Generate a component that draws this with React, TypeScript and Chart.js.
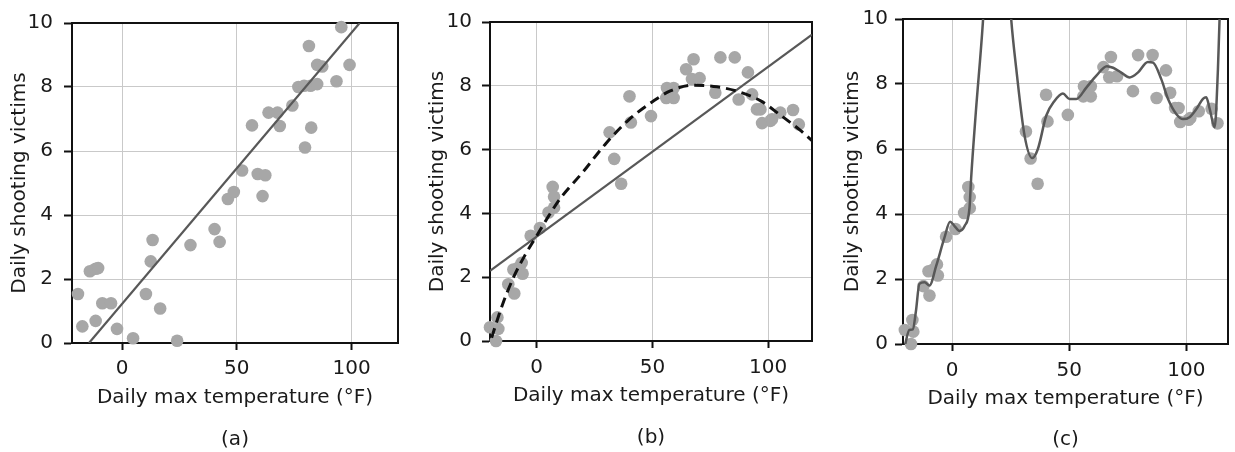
import { useEffect, useRef } from 'react';
import { Chart, registerables } from 'chart.js';

Chart.register(...registerables);

// ---- Data ----
const X_TICKS = [0, 50, 100];

// Panel (a): raw observations and linear fit
const aTemp = [-19.2, -17.3, -14, -11.5, -10.4, -11.5, -8.6, -4.8, -2.2, 4.8, 10.4, 12.5, 13.3, 16.6, 24, 29.8, 40.3, 42.5, 46.1, 48.7, 52.3, 56.6, 59.1, 62.4, 61.2, 63.8, 67.7, 68.7, 74.2, 76.8, 79.7, 79.3, 82.1, 85, 81.4, 82.4, 85, 87.2, 93.4, 95.5, 99.1];
const aVictims = [1.53, 0.52, 2.24, 2.32, 2.34, 0.69, 1.24, 1.24, 0.44, 0.15, 1.53, 2.55, 3.22, 1.08, 0.07, 3.06, 3.56, 3.16, 4.5, 4.72, 5.39, 6.8, 5.28, 5.24, 4.59, 7.2, 7.2, 6.78, 7.42, 8.0, 6.11, 8.04, 8.04, 8.09, 9.28, 6.73, 8.69, 8.64, 8.18, 9.87, 8.69];
const aFitTemp = [-14.4, 103.5];
const aFitVictims = [0, 10];

// Panels (b) and (c): observations
const bTemp = [-20.2, -17, -17.6, -16.6, -12.3, -9.7, -10.1, -7.9, -6.1, -6.5, -2.6, 1.4, 5.1, 6.9, 7.5, 7.5, 31.5, 33.5, 36.5, 40.1, 40.7, 49.4, 56.3, 59.2, 56, 59.2, 64.6, 67.8, 67.1, 70.4, 77.2, 79.4, 85.6, 87.3, 91.3, 93.1, 95.2, 96.7, 97.4, 101, 105.3, 110.8, 113.3, 101.7];
const bVictims = [0.43, 0.74, 0.0, 0.38, 1.78, 1.49, 2.24, 2.3, 2.11, 2.45, 3.3, 3.54, 4.03, 4.83, 4.52, 4.18, 6.54, 5.71, 4.93, 7.67, 6.85, 7.05, 7.93, 7.93, 7.62, 7.62, 8.52, 8.83, 8.21, 8.24, 7.78, 8.89, 8.89, 7.57, 8.42, 7.73, 7.26, 7.26, 6.83, 6.9, 7.16, 7.24, 6.79, 6.95];

// Panel (b): linear fit and quadratic (dashed) fit
const bLinTemp = [-20.2, 119];
const bLinVictims = [2.2, 9.6];
const bQuadTemp = [-19.5, -15, -10, -5, 0, 5, 10, 20, 30, 40, 50, 58, 68, 78, 88, 97, 105, 114, 119.5];
const bQuadVictims = [0.1, 1.1, 2.0, 2.7, 3.3, 3.9, 4.45, 5.3, 6.2, 6.95, 7.5, 7.85, 8.02, 7.97, 7.8, 7.52, 7.1, 6.6, 6.25];

// Panel (c): high-order (overfit) curve
const cCurveTemp = [-20.8, -19.8, -18.3, -16.8, -15.5, -14, -11.8, -9.7, -6.8, -3.3, -0.9, 1.0, 3.1, 5.3, 7.4, 8.1, 10.1, 13.1, 16, 19, 22, 25.2, 27.4, 30.9, 34.2, 36.6, 40.2, 43.7, 47.3, 50.1, 53, 57.3, 61.5, 66.1, 68.7, 72.2, 75.8, 79.3, 83.6, 85.8, 89.3, 92.2, 95.7, 98.6, 101.4, 104.3, 107.1, 108.5, 110, 112.1, 113.5, 114.2, 115.5];
const cCurveVictims = [-0.3, 0.07, 0.43, 0.45, 1.0, 1.85, 1.9, 1.8, 2.41, 3.27, 3.76, 3.63, 3.48, 3.63, 4.19, 5.1, 7.13, 9.88, 13.5, 15, 13.5, 10, 8.45, 6.42, 5.72, 6.0, 7.03, 7.48, 7.71, 7.54, 7.54, 7.89, 8.25, 8.55, 8.5, 8.35, 8.2, 8.35, 8.68, 8.66, 8.15, 7.54, 7.08, 6.92, 6.98, 7.23, 7.54, 7.59, 7.23, 6.67, 8.45, 10, 12];

const X_TITLE = 'Daily max temperature (°F)';
const Y_TITLE = 'Daily shooting victims';

// ---- Styles ----
const FONT = 'DejaVu Sans';
const TEXT = '#1a1a1a';
const GRID = '#c9c9c9';
const AXIS = '#111';
const DOT = '#a7a7a7';
const FIT = '#585858';

const pts = (xs: number[], ys: number[]) => xs.map((x, i) => ({ x, y: ys[i] }));

const scatterSet = (xs: number[], ys: number[]) => ({
  data: pts(xs, ys),
  showLine: false,
  pointRadius: 6.3,
  pointHoverRadius: 6.3,
  pointBackgroundColor: DOT,
  pointBorderWidth: 0,
  backgroundColor: DOT,
  clip: false as any,
  order: 2,
});

const lineSet = (xs: number[], ys: number[], extra: any) => ({
  data: pts(xs, ys),
  showLine: true,
  pointRadius: 0,
  pointHoverRadius: 0,
  fill: false,
  order: 0,
  ...extra,
});

const framePlugin = {
  id: 'frame',
  beforeDatasetsDraw(chart: any) {
    const { ctx, chartArea } = chart;
    const { left, top, right, bottom } = chartArea;
    ctx.save();
    ctx.strokeStyle = AXIS;
    ctx.lineWidth = 2;
    ctx.strokeRect(left, top, right - left, bottom - top);
    ctx.restore();
  },
};

type PanelSpec = {
  left: number;
  width: number;
  label: string;
  xMin: number;
  xMax: number;
  yAxisWidth: number;
  rightPad: number;
  topPad: number;
  xAxisHeight: number;
  labelPadTop: number;
  labelPadBottom: number;
  yTitlePad: number;
  yTickPad: number;
  xTickPad: number;
  datasets: any[];
};

const panels: PanelSpec[] = [
  {
    left: 0, width: 410, label: '(a)', xMin: -21.8, xMax: 120.2,
    yAxisWidth: 72, rightPad: 12, topPad: 18, xAxisHeight: 67,
    labelPadTop: 18, labelPadBottom: 0, yTitlePad: 8, yTickPad: 11, xTickPad: 7,
    datasets: [
      lineSet(aFitTemp, aFitVictims, { borderColor: FIT, borderWidth: 2.2, tension: 0 }),
      scatterSet(aTemp, aVictims),
    ],
  },
  {
    left: 410, width: 410, label: '(b)', xMin: -20.2, xMax: 119,
    yAxisWidth: 80, rightPad: 8, topPad: 18, xAxisHeight: 67,
    labelPadTop: 18, labelPadBottom: 2, yTitlePad: 16, yTickPad: 10, xTickPad: 8,
    datasets: [
      lineSet(bQuadTemp, bQuadVictims, { borderColor: '#111', borderWidth: 3, borderDash: [10, 6], cubicInterpolationMode: 'monotone' }),
      lineSet(bLinTemp, bLinVictims, { borderColor: FIT, borderWidth: 2.2, tension: 0 }),
      scatterSet(bTemp, bVictims),
    ],
  },
  {
    left: 820, width: 415, label: '(c)', xMin: -21, xMax: 117.8,
    yAxisWidth: 83, rightPad: 7, topPad: 16, xAxisHeight: 67,
    labelPadTop: 17, labelPadBottom: 0, yTitlePad: 21, yTickPad: 7, xTickPad: 8,
    datasets: [
      lineSet(cCurveTemp, cCurveVictims, { borderColor: FIT, borderWidth: 2.5, cubicInterpolationMode: 'monotone' }),
      scatterSet(bTemp, bVictims),
    ],
  },
];

const HEIGHT = 452;

function Panel({ spec }: { spec: PanelSpec }) {
  const ref = useRef<HTMLCanvasElement | null>(null);
  useEffect(() => {
    if (!ref.current) return;
    const font = { family: FONT, size: 20 };
    const chart = new Chart(ref.current, {
      type: 'scatter',
      data: { datasets: spec.datasets },
      plugins: [framePlugin],
      options: {
        animation: false,
        responsive: false,
        devicePixelRatio: 1,
        events: [],
        layout: { padding: { left: 0, right: spec.rightPad, top: spec.topPad, bottom: 0 } },
        plugins: {
          legend: { display: false },
          tooltip: { enabled: false },
          title: {
            display: true,
            fullSize: false,
            text: spec.label,
            position: 'bottom',
            color: TEXT,
            font: { family: FONT, size: 20, weight: 'normal' },
            padding: { top: spec.labelPadTop, bottom: spec.labelPadBottom },
          },
        },
        scales: {
          x: {
            type: 'linear',
            min: spec.xMin,
            max: spec.xMax,
            afterBuildTicks: (s: any) => {
              s.ticks = X_TICKS.map((v) => ({ value: v }));
            },
            afterFit: (s: any) => {
              s.height = spec.xAxisHeight;
            },
            grid: { color: GRID, lineWidth: 1, tickColor: AXIS, tickLength: 7, tickWidth: 2 },
            border: { color: AXIS, width: 2 },
            ticks: { color: TEXT, font, padding: spec.xTickPad, maxRotation: 0, autoSkip: false },
            title: { display: true, text: X_TITLE, color: TEXT, font, padding: { top: 0, bottom: 0 } },
          },
          y: {
            type: 'linear',
            min: 0,
            max: 10,
            afterFit: (s: any) => {
              s.width = spec.yAxisWidth;
            },
            grid: { color: GRID, lineWidth: 1, tickColor: AXIS, tickLength: 8, tickWidth: 2 },
            border: { color: AXIS, width: 2 },
            ticks: { stepSize: 2, color: TEXT, font, padding: spec.yTickPad },
            title: { display: true, text: Y_TITLE, color: TEXT, font, padding: { top: spec.yTitlePad, bottom: 0 } },
          },
        },
      } as any,
    });
    return () => chart.destroy();
  }, [spec]);
  return (
    <canvas
      ref={ref}
      width={spec.width}
      height={HEIGHT}
      style={{ position: 'absolute', left: spec.left, top: 0, width: spec.width, height: HEIGHT }}
    />
  );
}

export default function App() {
  return (
    <div style={{ position: 'absolute', left: 0, top: 0, width: 1235, height: HEIGHT, background: '#fff', overflow: 'hidden' }}>
      {panels.map((p) => (
        <Panel key={p.label} spec={p} />
      ))}
    </div>
  );
}
